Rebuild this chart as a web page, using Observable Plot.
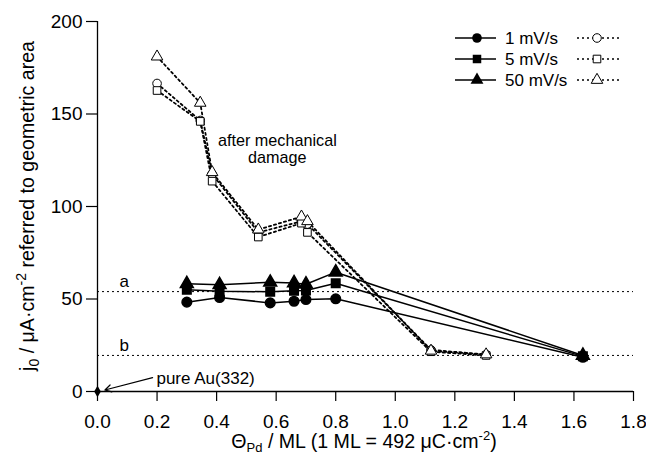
<!DOCTYPE html>
<html>
<head>
<meta charset="utf-8">
<script src="https://cdn.jsdelivr.net/npm/d3@7"></script>
<script src="https://cdn.jsdelivr.net/npm/@observablehq/plot@0.6"></script>
<style>
  body { margin: 0; background: #fff; }
  #wrap { position: relative; width: 646px; height: 456px; font-family: "Liberation Sans", Arial, sans-serif; overflow: hidden; }
  #legend { position: absolute; left: 0; top: 0; }
</style>
</head>
<body>
<div id="wrap"></div>
<script>
// ---- data ----
const thetaIntact = [0.30, 0.41, 0.58, 0.66, 0.70, 0.80, 1.63];
const j1 = [48.3, 50.8, 47.9, 48.8, 49.7, 50.1, 18.5];
const j5 = [55.0, 54.2, 53.9, 54.4, 54.6, 58.5, 19.0];
const j50 = [58.2, 57.7, 59.0, 58.7, 58.0, 64.5, 19.5];

const thetaDamaged = [0.20, 0.345, 0.385, 0.54, 0.685, 0.705, 1.12, 1.305];
const d1 = [166.5, 146.5, 117.5, 86.0, 92.0, 90.5, 22.5, 20.0];
const d5 = [162.7, 146.0, 113.7, 83.5, 91.0, 86.0, 21.5, 19.5];
const d50 = [181.0, 156.0, 118.5, 87.5, 94.5, 92.0, 22.0, 20.0];

const seriesNames = ["1 mV/s", "5 mV/s", "50 mV/s"];
const symbols = ["circle", "square", "triangle"];

const refLevels = [54, 19.5];
const refLabels = ["a", "b"];
const pureAu = {theta: 0, j: 0, label: "pure Au(332)"};
const annotation = ["after mechanical", "damage"];

const xTicks = [0, 0.2, 0.4, 0.6, 0.8, 1.0, 1.2, 1.4, 1.6, 1.8];
const yTicks = [0, 50, 100, 150, 200];

// ---- build tables ----
const intact = [];
[j1, j5, j50].forEach((arr, s) => arr.forEach((v, i) => intact.push({theta: thetaIntact[i], j: v, s})));
const damaged = [];
[d1, d5, d50].forEach((arr, s) => arr.forEach((v, i) => damaged.push({theta: thetaDamaged[i], j: v, s})));

const font = "Liberation Sans, Arial, sans-serif";

const plot = Plot.plot({
  width: 646,
  height: 456,
  marginLeft: 97,
  marginRight: 13,
  marginTop: 21,
  marginBottom: 65,
  style: {fontFamily: font, fontSize: "17px", background: "white", overflow: "visible"},
  x: {domain: [0, 1.8], inset: 0},
  y: {domain: [0, 200], inset: 0},
  symbol: {domain: [0, 1, 2], range: symbols},
  marks: [
    // reference lines a and b
    Plot.ruleY(refLevels, {x1: 0, x2: 1.8, stroke: "black", strokeWidth: 1, strokeDasharray: "2,3"}),
    Plot.text(refLevels.map((v, i) => ({v, t: refLabels[i]})), {x: 0.09, y: "v", text: "t", dy: -10, fontSize: 17, fill: "black"}),
    // axes lines
    Plot.ruleY([0], {x1: 0, x2: 1.8, stroke: "black", strokeWidth: 1.3}),
    Plot.ruleX([0], {y1: 0, y2: 200, stroke: "black", strokeWidth: 1.3}),
    Plot.axisX(xTicks, {tickSize: 10, tickFormat: d3.format(".1f"), fontSize: 19, tickPadding: 13, label: null, strokeWidth: 1.2}),
    Plot.axisY(yTicks, {tickSize: 11, fontSize: 19, tickPadding: 4, label: null, strokeWidth: 1.2}),
    // damaged (dashed, open)
    Plot.line(damaged, {x: "theta", y: "j", z: "s", stroke: "black", strokeWidth: 1.8, strokeDasharray: "2.2,3"}),
    Plot.dot(damaged, {x: "theta", y: "j", symbol: "s", r: 4.3, fill: "white", stroke: "black", strokeWidth: 1}),
    // intact (solid, filled)
    Plot.line(intact, {x: "theta", y: "j", z: "s", stroke: "black", strokeWidth: 1.5}),
    Plot.dot(intact, {x: "theta", y: "j", symbol: "s", r: 4.8, fill: "black", stroke: "black"}),
    // pure Au
    Plot.dot([pureAu], {x: "theta", y: "j", symbol: "diamond", r: 3.5, fill: "black"}),
    Plot.arrow([pureAu], {x1: 0.185, y1: 7.5, x2: 0.025, y2: 0.8, stroke: "black", strokeWidth: 1.2, headLength: 9, bend: 0}),
    Plot.text([pureAu], {x: 0.198, y: 7.2, text: "label", textAnchor: "start", fontSize: 17}),
    // annotation
    Plot.text(annotation, {x: 0.604, y: (d, i) => 135.7 - i * 9.2, text: d => d, fontSize: 16.2, textAnchor: "middle"})
  ]
});

const svg = d3.select(plot);
// y-axis label
const yl = svg.append("text")
  .attr("transform", "translate(33.5,206) rotate(-90)")
  .attr("text-anchor", "middle")
  .attr("font-size", 19.6)
  .attr("font-family", font)
  .attr("fill", "black");
yl.append("tspan").text("j");
yl.append("tspan").attr("font-size", 14).attr("baseline-shift", "-5").text("0");
yl.append("tspan").text(" / μA·cm");
yl.append("tspan").attr("font-size", 14).attr("baseline-shift", "8").text("-2");
yl.append("tspan").text(" referred to geometric area");

// x-axis label
const xl = svg.append("text")
  .attr("x", 364).attr("y", 448)
  .attr("text-anchor", "middle")
  .attr("font-size", 19.6)
  .attr("font-family", font)
  .attr("fill", "black");
xl.append("tspan").text("Θ");
xl.append("tspan").attr("font-size", 13).attr("baseline-shift", "-4").text("Pd");
xl.append("tspan").text(" / ML (1 ML = 492 μC·cm");
xl.append("tspan").attr("font-size", 13).attr("baseline-shift", "8").text("-2");
xl.append("tspan").text(")");

document.getElementById("wrap").appendChild(plot);

// ---- legend ----
const lg = d3.select("#wrap").append("svg").attr("id", "legend")
  .attr("width", 646).attr("height", 100)
  .style("font-family", font);
const rowY = [38, 59, 80];
const symIndex = {circle: 0, square: 3, triangle: 5};
seriesNames.forEach((name, i) => {
  const y = rowY[i];
  lg.append("line").attr("x1", 455).attr("x2", 496).attr("y1", y).attr("y2", y).attr("stroke", "black").attr("stroke-width", 1.5);
  const sym = d3.symbol(d3.symbolsFill[symIndex[symbols[i]]], Math.PI * 4.8 * 4.8);
  lg.append("path").attr("d", sym()).attr("transform", `translate(477,${y})`).attr("fill", "black");
  lg.append("text").attr("x", 505).attr("y", y + 6).attr("font-size", 17).text(name);
  lg.append("line").attr("x1", 577).attr("x2", 620).attr("y1", y).attr("y2", y).attr("stroke", "black").attr("stroke-width", 1.3).attr("stroke-dasharray", "2,3");
  const sym2 = d3.symbol(d3.symbolsFill[symIndex[symbols[i]]], Math.PI * 4.3 * 4.3);
  lg.append("path").attr("d", sym2()).attr("transform", `translate(597,${y})`).attr("fill", "white").attr("stroke", "black");
});
</script>
</body>
</html>
